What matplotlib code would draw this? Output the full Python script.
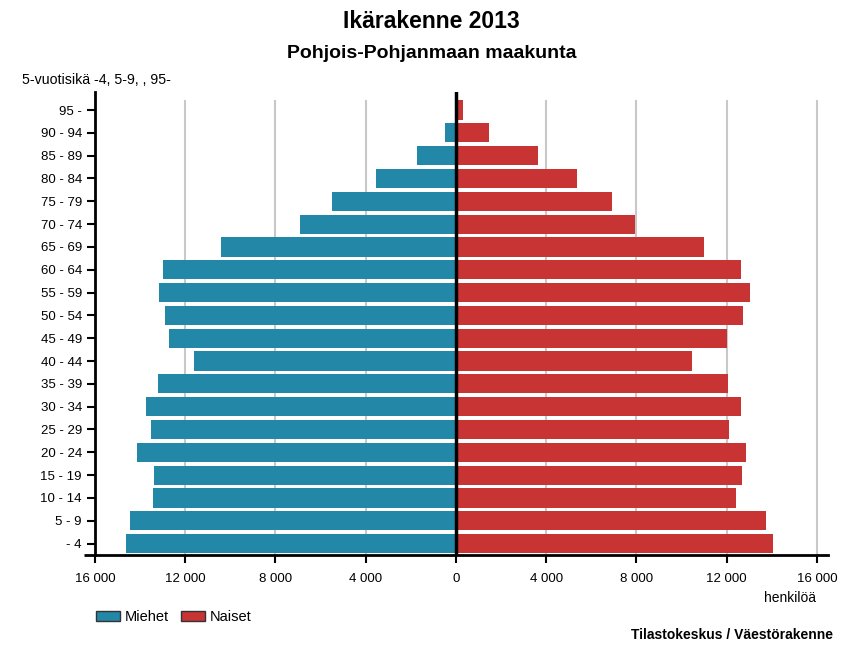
import matplotlib
matplotlib.use("Agg")
import matplotlib.pyplot as plt
from matplotlib.patches import Patch

plt.rcParams['font.family'] = ['Liberation Sans', 'DejaVu Sans']

age_groups = ["- 4", "5 - 9", "10 - 14", "15 - 19", "20 - 24", "25 - 29", "30 - 34",
              "35 - 39", "40 - 44", "45 - 49", "50 - 54", "55 - 59", "60 - 64",
              "65 - 69", "70 - 74", "75 - 79", "80 - 84", "85 - 89", "90 - 94", "95 -"]
men = [14630, 14450, 13430, 13390, 14140, 13520, 13740, 13210, 11610, 12720,
       12900, 13160, 12990, 10420, 6910, 5500, 3550, 1730, 490, 60]
women = [14050, 13740, 12410, 12680, 12850, 12100, 12630, 12060, 10460, 12010,
         12720, 13030, 12630, 10990, 7930, 6910, 5360, 3630, 1460, 320]
xticks = [-16000, -12000, -8000, -4000, 0, 4000, 8000, 12000, 16000]
xticklabels = ["16 000", "12 000", "8 000", "4 000", "0", "4 000", "8 000", "12 000", "16 000"]

blue = "#2387a8"
red = "#c83434"

fig = plt.figure(figsize=(8.65, 6.48), dpi=100)
ax = fig.add_axes([95/865, 1-555/648, (828-95)/865, (555-92)/648])

y = list(range(len(age_groups)))
ax.barh(y, [-m for m in men], height=0.84, color=blue, zorder=2)
ax.barh(y, women, height=0.84, color=red, zorder=2)

for g in [-12000, -8000, -4000, 4000, 8000, 12000, 16000]:
    ax.axvline(g, ymin=0, ymax=0.98, color="#c8c8c8", lw=1.5, zorder=1)
ax.axvline(0, color="black", lw=2.5, zorder=3)

ax.set_xlim(-16000, 16490)
ax.set_ylim(-0.5, 19.79)
ax.set_xticks(xticks)
ax.set_xticklabels(xticklabels, fontsize=9.5)
ax.set_yticks(y)
ax.set_yticklabels(age_groups, fontsize=9.5)

for s in ["top", "right"]:
    ax.spines[s].set_visible(False)
ax.spines["left"].set_linewidth(2)
ax.spines["bottom"].set_linewidth(2)
ax.tick_params(axis="both", width=1.5, length=6, color="black")
ax.tick_params(axis="x", pad=7)
ax.plot([-0.015, 0], [0, 0], transform=ax.transAxes, color="black", lw=2,
        clip_on=False, solid_capstyle="butt")

fig.text(431/865, 1-21/648, "Ikärakenne 2013", ha="center", va="center",
         fontsize=16.5, fontweight="bold")
fig.text(432/865, 1-53/648, "Pohjois-Pohjanmaan maakunta", ha="center", va="center",
         fontsize=14, fontweight="bold")
fig.text(22/865, 1-80/648, "5-vuotisikä -4, 5-9, , 95-", ha="left", va="center", fontsize=10.2)
fig.text(816/865, 1-598/648, "henkilöä", ha="right", va="center", fontsize=10)
fig.text(833/865, 1-635/648, "Tilastokeskus / Väestörakenne", ha="right", va="center",
         fontsize=10, fontweight="bold")

handles = [Patch(facecolor=blue, edgecolor="#333333", label="Miehet"),
           Patch(facecolor=red, edgecolor="#333333", label="Naiset")]
fig.legend(handles=handles, loc="center left", bbox_to_anchor=(84/865, 1-617/648),
           ncol=2, frameon=False, fontsize=10.5, handlelength=1.65, handleheight=0.68,
           columnspacing=0.8, handletextpad=0.35, borderpad=0.3)

fig.savefig("out.png", dpi=100)
